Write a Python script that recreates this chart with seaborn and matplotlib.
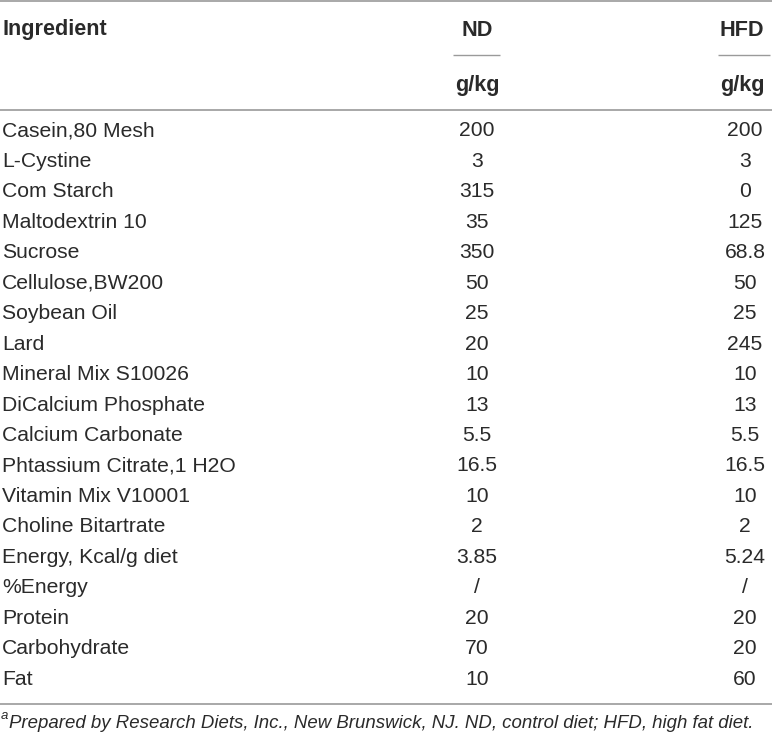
import matplotlib
matplotlib.use("Agg")
import matplotlib.pyplot as plt
import seaborn as sns
import pandas as pd

# ---- data ----
ingredients = [
    "Casein,80 Mesh", "L-Cystine", "Com Starch", "Maltodextrin 10", "Sucrose",
    "Cellulose,BW200", "Soybean Oil", "Lard", "Mineral Mix S10026",
    "DiCalcium Phosphate", "Calcium Carbonate", "Phtassium Citrate,1 H2O",
    "Vitamin Mix V10001", "Choline Bitartrate", "Energy, Kcal/g diet",
    "%Energy", "Protein", "Carbohydrate", "Fat",
]
nd_values = ["200", "3", "315", "35", "350", "50", "25", "20", "10", "13", "5.5",
             "16.5", "10", "2", "3.85", "/", "20", "70", "10"]
hfd_values = ["200", "3", "0", "125", "68.8", "50", "25", "245", "10", "13", "5.5",
              "16.5", "10", "2", "5.24", "/", "20", "20", "60"]
col_headers = ["Ingredient", "ND", "HFD"]
unit_label = "g/kg"
footnote = "Prepared by Research Diets, Inc., New Brunswick, NJ. ND, control diet; HFD, high fat diet."

df = pd.DataFrame({"Ingredient": ingredients, "ND": nd_values, "HFD": hfd_values})

# ---- style ----
sns.set_theme(style="white")
plt.rcParams["font.family"] = ["Liberation Sans", "DejaVu Sans"]

W, H = 772, 738
fig = plt.figure(figsize=(W / 100, H / 100), dpi=100)
ax = fig.add_axes([0, 0, 1, 1])
ax.set_xlim(0, W)
ax.set_ylim(H, 0)
ax.axis("off")

txt = "#2a2a2a"
line_c = "#9a9a9a"
fs = 15.2
fs_b = 15.6

x_label = 2
x_nd = 477
x_hfd = 745

# header
ax.text(x_label, 30, col_headers[0], ha="left", va="center", fontsize=fs_b,
        fontweight="bold", color=txt)
ax.text(x_nd, 30, col_headers[1], ha="center", va="center", fontsize=fs_b,
        fontweight="bold", color=txt)
ax.text(x_hfd - 3, 30, col_headers[2], ha="center", va="center", fontsize=fs_b,
        fontweight="bold", color=txt)
ax.text(x_nd, 85, unit_label, ha="center", va="center", fontsize=fs_b,
        fontweight="bold", color=txt)
ax.text(x_hfd - 3, 85, unit_label, ha="center", va="center", fontsize=fs_b,
        fontweight="bold", color=txt)

# rules
ax.hlines(1, 0, W, color=line_c, lw=1.2)
ax.hlines(55, 453, 500, color=line_c, lw=1.0)
ax.hlines(55, 718, 770, color=line_c, lw=1.0)
ax.hlines(110, 0, W, color=line_c, lw=1.2)
ax.hlines(704, 0, W, color=line_c, lw=1.2)

# body
y0, dy = 131, 30.45
for i, row in df.iterrows():
    y = y0 + dy * i
    ax.text(x_label, y, row["Ingredient"], ha="left", va="center", fontsize=fs,
            color=txt)
    ax.text(x_nd, y, row["ND"], ha="center", va="center", fontsize=fs, color=txt)
    ax.text(x_hfd, y, row["HFD"], ha="center", va="center", fontsize=fs, color=txt)

# footnote
ax.text(1, 716, "a", ha="left", va="center", fontsize=9.5, style="italic", color=txt)
ax.text(9, 723, footnote, ha="left", va="center", fontsize=13.45, style="italic",
        color=txt)

fig.savefig("out.png", dpi=100)
